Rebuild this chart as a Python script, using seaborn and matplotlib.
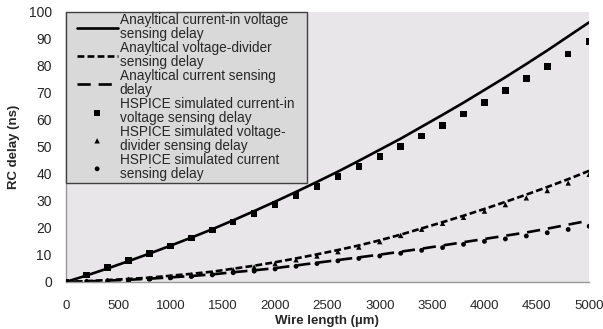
import numpy as np
import pandas as pd
import matplotlib
matplotlib.use('Agg')
import matplotlib.pyplot as plt
from matplotlib.patches import Rectangle
import seaborn as sns

# Wire length (um) and RC delays (ns)
wire_len = [0, 200, 400, 600, 800, 1000, 1200, 1400, 1600, 1800, 2000, 2200, 2400,
            2600, 2800, 3000, 3200, 3400, 3600, 3800, 4000, 4200, 4400, 4600, 4800, 5000]

ana_cur_in_volt = [0, 2.4, 5.0, 7.7, 10.5, 13.4, 16.4, 19.5, 22.8, 26.2, 29.7, 33.3, 37.0,
                   40.8, 44.8, 48.9, 53.0, 57.4, 61.8, 66.3, 71.0, 75.7, 80.6, 85.6, 90.8, 96.0]
ana_volt_div = [0, 0.3, 0.7, 1.1, 1.6, 2.3, 3.0, 3.8, 4.9, 6.0, 7.3, 8.7, 10.2,
                11.8, 13.5, 15.4, 17.5, 19.8, 22.1, 24.5, 27.0, 29.6, 32.3, 35.1, 38.0, 41.1]
ana_cur = [0, 0.2, 0.5, 0.8, 1.2, 1.7, 2.2, 2.8, 3.6, 4.3, 5.1, 6.1, 7.1,
           8.1, 9.1, 10.1, 11.2, 12.3, 13.5, 14.7, 15.9, 17.1, 18.3, 19.7, 21.2, 22.7]

sim_cur_in_volt = [0, 2.6, 5.3, 7.9, 10.6, 13.3, 16.2, 19.2, 22.2, 25.4, 28.7, 31.9, 35.3,
                   38.9, 42.6, 46.3, 50.0, 54.0, 57.9, 62.1, 66.3, 70.7, 75.2, 79.6, 84.3, 89.0]
sim_volt_div = [0, 0.3, 0.6, 1.0, 1.4, 2.0, 2.6, 3.3, 4.5, 5.5, 6.8, 8.2, 9.6,
                11.2, 12.9, 14.9, 17.2, 19.5, 21.7, 23.9, 26.2, 28.6, 31.1, 33.8, 36.6, 39.8]
sim_cur = [0, 0.2, 0.4, 0.7, 1.0, 1.5, 2.0, 2.6, 3.4, 4.0, 4.8, 5.8, 6.8,
           7.8, 8.7, 9.6, 10.6, 11.7, 12.7, 13.9, 15.0, 15.9, 17.0, 18.2, 19.4, 20.6]

labels = ['Anayltical current-in voltage\nsensing delay',
          'Anayltical voltage-divider\nsensing delay',
          'Anayltical current sensing\ndelay',
          'HSPICE simulated current-in\nvoltage sensing delay',
          'HSPICE simulated voltage-\ndivider sensing delay',
          'HSPICE simulated current\nsensing delay']

sns.set_style('white')
plt.rcParams['font.family'] = ['Liberation Sans', 'DejaVu Sans']

fig = plt.figure(figsize=(6.03, 3.29), dpi=100)
ax = fig.add_axes([0.109, 0.143, 0.868, 0.822])
ax.set_facecolor('#e8e6e8')

lw = 1.9
sns.lineplot(x=wire_len, y=ana_cur_in_volt, color='black', linewidth=lw, ax=ax, label=labels[0])
sns.lineplot(x=wire_len, y=ana_volt_div, color='black', linewidth=lw, ax=ax, label=labels[1],
             linestyle=(0, (2.6, 1.2)))
sns.lineplot(x=wire_len, y=ana_cur, color='black', linewidth=lw, ax=ax, label=labels[2],
             linestyle=(0, (5, 3)))

sns.scatterplot(x=wire_len, y=sim_cur_in_volt, marker='s', s=22, color='black',
                edgecolor='none', ax=ax, label=labels[3], zorder=3)
sns.scatterplot(x=wire_len, y=sim_volt_div, marker='^', s=15, color='black',
                edgecolor='none', ax=ax, label=labels[4], zorder=3)
sns.scatterplot(x=wire_len, y=sim_cur, marker='o', s=12, color='black',
                edgecolor='none', ax=ax, label=labels[5], zorder=3)

ax.set_xlim(0, 5000)
ax.set_ylim(0, 100)
ax.set_xticks(np.arange(0, 5001, 500))
ax.set_yticks(np.arange(0, 101, 10))
ax.tick_params(axis='x', length=0, labelsize=9.5, pad=13)
ax.tick_params(axis='y', length=0, labelsize=10, pad=10)

for s in ['top', 'right']:
    ax.spines[s].set_visible(False)
for s in ['left', 'bottom']:
    ax.spines[s].set_color('#999999')
    ax.spines[s].set_linewidth(1)

ax.set_xlabel('Wire length (µm)', fontsize=9.5, fontweight='bold', labelpad=2)
ax.set_ylabel('RC delay (ns)', fontsize=9.5, fontweight='bold', labelpad=6)

# legend box drawn as a patch, legend itself without frame
ax.add_patch(Rectangle((0.001, 0.366), 0.46, 0.634, transform=ax.transAxes,
                       facecolor='#d9d9d9', edgecolor='#404040', linewidth=1,
                       zorder=4, clip_on=False))
leg = ax.legend(loc='upper left', bbox_to_anchor=(0.021, 0.995), borderaxespad=0,
                fontsize=9.8, frameon=False, handlelength=3.0,
                handletextpad=0.15, labelspacing=0.0, borderpad=0.0)
leg.set_zorder(5)
for t in leg.get_texts():
    t.set_linespacing(1.0)

fig.savefig('out.png', dpi=100)
